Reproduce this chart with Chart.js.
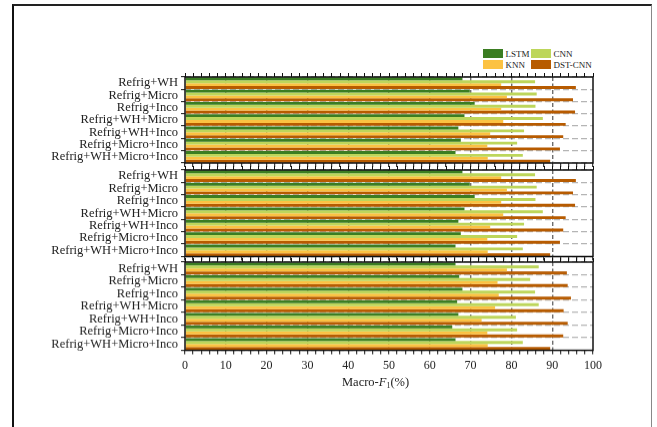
<!DOCTYPE html>
<html>
<head>
<meta charset="utf-8">
<script src="https://cdn.jsdelivr.net/npm/chart.js@4/dist/chart.umd.min.js"></script>
<style>
  html, body { margin: 0; padding: 0; background: #fff; width: 657px; height: 427px; overflow: hidden;
               font-family: 'Liberation Serif', 'DejaVu Serif', serif; }
  #frame { position: absolute; left: 12px; top: 4px; width: 640px; height: 440px; box-sizing: border-box;
           border-left: 2px solid #111; border-top: 2px solid #222; border-right: 1px solid #888; }
  .panel { position: absolute; left: 0; width: 657px; }
  .panel canvas { display: block; }
  #legend { position: absolute; left: 483px; top: 49px; display: grid; grid-template-columns: 48px 48px;
            row-gap: 1.5px; font-size: 9px; color: #222; }
  .item { display: flex; align-items: center; height: 9.5px; white-space: nowrap; }
  .sw { width: 20px; height: 9px; margin-right: 2.5px; flex: none; }
  #xtitle { position: absolute; top: 375px; left: 342px; font-size: 12.5px; color: #222; white-space: nowrap; }
  #xtitle sub { font-size: 8px; vertical-align: -2px; }
</style>
</head>
<body>
<div id="frame"></div>
<div id="legend"></div>
<div class="panel" style="top:71px;height:98px"><canvas id="c1"></canvas></div>
<div class="panel" style="top:163.5px;height:98.5px"><canvas id="c2"></canvas></div>
<div class="panel" style="top:256px;height:123.5px"><canvas id="c3"></canvas></div>
<div id="xtitle">Macro-<i>F</i><sub>1</sub>(%)</div>

<script>
// Appliance combinations on the category axis
const categories = ['Refrig+WH', 'Refrig+Micro', 'Refrig+Inco', 'Refrig+WH+Micro',
                    'Refrig+WH+Inco', 'Refrig+Micro+Inco', 'Refrig+WH+Micro+Inco'];

// Model names and their bar colours
const seriesNames  = ['LSTM', 'CNN', 'KNN', 'DST-CNN'];
const seriesColors = ['#3b7d22', '#bdd65b', '#fcc242', '#b75b00'];

// Macro-F1 (%) — upper panel
const lstmUpper = [68.0, 69.8, 71.0, 68.5, 67.0, 67.6, 66.3];
const cnnUpper  = [85.8, 86.2, 85.9, 87.7, 83.1, 81.4, 82.8];
const knnUpper  = [77.5, 78.9, 77.5, 78.0, 74.8, 74.1, 74.2];
const dstUpper  = [95.8, 95.1, 95.6, 93.3, 92.7, 91.9, 89.5];

// Macro-F1 (%) — middle panel
const lstmMiddle = [68.0, 69.8, 71.0, 68.5, 67.0, 67.6, 66.3];
const cnnMiddle  = [85.8, 86.2, 85.9, 87.7, 83.1, 81.4, 82.8];
const knnMiddle  = [77.5, 78.9, 77.5, 78.0, 74.8, 74.1, 74.2];
const dstMiddle  = [95.8, 95.1, 95.6, 93.3, 92.7, 91.9, 89.5];

// Macro-F1 (%) — lower panel
const lstmLower = [66.3, 67.2, 68.0, 66.7, 67.0, 65.5, 66.3];
const cnnLower  = [86.7, 84.6, 85.8, 86.7, 81.1, 81.4, 82.8];
const knnLower  = [78.9, 76.6, 76.9, 76.0, 72.7, 74.1, 74.2];
const dstLower  = [93.6, 93.8, 94.6, 92.8, 93.8, 92.7, 89.5];

// x axis: 0–100, minor ticks every 2, labels every 10
const xMin = 0, xMax = 100, xMinorStep = 2, xMajorStep = 10;

const SERIF = "'Liberation Serif', 'DejaVu Serif', serif";

// legend (2 x 2)
const legendEl = document.getElementById('legend');
seriesNames.forEach((name, i) => {
  const item = document.createElement('div');
  item.className = 'item';
  const sw = document.createElement('span');
  sw.className = 'sw';
  sw.style.background = seriesColors[i];
  const label = document.createElement('span');
  label.textContent = name;
  item.appendChild(sw);
  item.appendChild(label);
  legendEl.appendChild(item);
});

// closed box around each plot area
const framePlugin = {
  id: 'frame',
  afterDatasetsDraw(chart) {
    const a = chart.chartArea, ctx = chart.ctx;
    ctx.save();
    ctx.strokeStyle = '#111';
    ctx.lineWidth = 1.5;
    ctx.strokeRect(a.left, a.top, a.right - a.left, a.bottom - a.top);
    ctx.restore();
  }
};

function majorGridColor(c) {
  const v = c.tick ? Math.round(c.tick.value) : -1;
  return (v % xMajorStep === 0 && v > xMin && v < xMax) ? '#6e6e6e' : 'rgba(0,0,0,0)';
}

function makePanel(id, seriesValues, showLabels, bottomHeight) {
  const datasets = seriesNames.map((name, i) => ({
    label: name,
    data: seriesValues[i],
    backgroundColor: seriesColors[i],
    borderWidth: 0,
    barPercentage: 1.0,
    categoryPercentage: 0.94
  }));

  return new Chart(document.getElementById(id), {
    type: 'bar',
    data: { labels: categories, datasets },
    plugins: [framePlugin],
    options: {
      indexAxis: 'y',
      responsive: true,
      maintainAspectRatio: false,
      animation: false,
      devicePixelRatio: 1,
      layout: { padding: { left: 0, right: 64, top: 0, bottom: 0 } },
      plugins: { legend: { display: false }, tooltip: { enabled: false } },
      scales: {
        y: {
          type: 'category',
          position: 'left',
          offset: true,
          grid: { offset: true, color: '#b5b5b5', lineWidth: 1.3, tickColor: '#111', tickLength: 4, tickWidth: 1 },
          border: { display: false, dash: [6, 3] },
          ticks: { font: { family: SERIF, size: 12.5 }, color: '#222', padding: 3, autoSkip: false },
          afterFit(s) { s.width = 185; s.paddingTop = 0; s.paddingBottom = 0; }
        },
        x: {
          type: 'linear',
          position: 'bottom',
          min: xMin, max: xMax,
          ticks: {
            stepSize: xMinorStep, autoSkip: false, maxRotation: 0, display: showLabels,
            font: { family: SERIF, size: 12 }, color: '#222', padding: 4,
            callback: v => (Math.round(v) % xMajorStep === 0 ? String(Math.round(v)) : '')
          },
          grid: { color: majorGridColor, lineWidth: 1.4, tickColor: '#111', tickLength: 4, tickWidth: 1 },
          border: { display: false, dash: [4, 2.5] },
          afterFit(s) { s.height = bottomHeight; s.paddingLeft = 0; s.paddingRight = 0; }
        },
        xTop: {
          type: 'linear',
          position: 'top',
          min: xMin, max: xMax,
          ticks: { stepSize: xMinorStep, display: false, autoSkip: false },
          grid: { drawOnChartArea: false, tickColor: '#111', tickLength: 4, tickWidth: 1 },
          border: { display: false },
          afterFit(s) { s.height = 6; s.paddingLeft = 0; s.paddingRight = 0; }
        }
      }
    }
  });
}

makePanel('c1', [lstmUpper, cnnUpper, knnUpper, dstUpper], false, 6);
makePanel('c2', [lstmMiddle, cnnMiddle, knnMiddle, dstMiddle], false, 6);
makePanel('c3', [lstmLower, cnnLower, knnLower, dstLower], true, 30);
</script>
</body>
</html>
